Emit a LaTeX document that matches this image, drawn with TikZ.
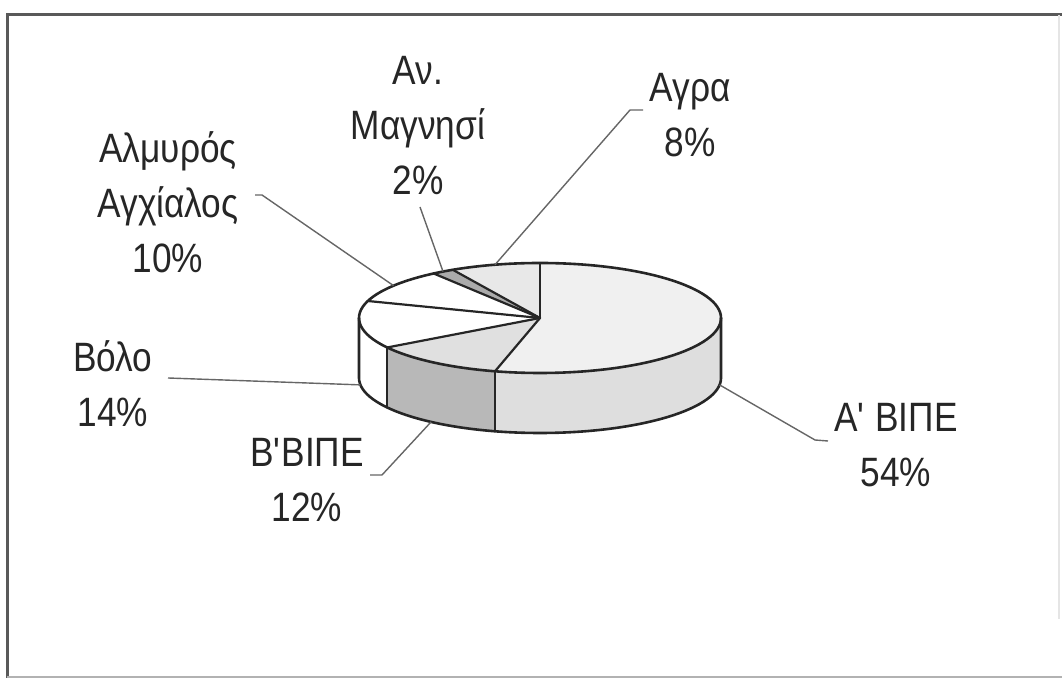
\documentclass[tikz,border=0pt]{standalone}
\usepackage{fontspec}
\setmainfont{Liberation Sans}[FakeStretch=0.86]
\begin{document}
\begin{tikzpicture}[x=1pt,y=1pt,
  pieline/.style={draw=black!85,line width=2.6pt,line join=round},
  radline/.style={draw=black!85,line width=2.2pt,line cap=round},
  leader/.style={draw=black!60,line width=1.4pt,line join=round},
  lab/.style={align=center,inner sep=0pt,text=black!85,font=\fontsize{41}{55}\selectfont},
  frameline/.style={draw=black!65,line width=3pt}]
\useasboundingbox (0,0) rectangle (1062,679);
\def\pcx{540}\def\pcy{361}\def\prx{181}\def\pry{55}\def\pdep{60}
% frame
\draw[frameline] (7,664) -- (1062,664);
\draw[frameline] (7,665.5) -- (7,1);
\draw[draw=black!30,line width=2pt] (7,2) -- (1062,2);
\draw[draw=black!10,line width=1.5pt] (1059,664) -- (1059,60);
% colours
\colorlet{aTop}{black!6}
\colorlet{aSide}{black!13}
\colorlet{bTop}{black!12}
\colorlet{bSide}{black!28}
\colorlet{mTop}{black!33}
\colorlet{gTop}{black!9}
% side walls
\fill[aSide] ({\pcx+\prx*cos(-104.4)},{\pcy+\pry*sin(-104.4)}) arc[start angle=-104.4,end angle=0,x radius=\prx,y radius=\pry] -- ++(0,-\pdep) arc[start angle=0,end angle=-104.4,x radius=\prx,y radius=\pry] -- cycle;
\fill[bSide] ({\pcx+\prx*cos(-147.6)},{\pcy+\pry*sin(-147.6)}) arc[start angle=-147.6,end angle=-104.4,x radius=\prx,y radius=\pry] -- ++(0,-\pdep) arc[start angle=-104.4,end angle=-147.6,x radius=\prx,y radius=\pry] -- cycle;
% top faces
\fill[aTop] (\pcx,\pcy) -- ({\pcx+\prx*cos(90)},{\pcy+\pry*sin(90)}) arc[start angle=90,end angle=-104.4,x radius=\prx,y radius=\pry] -- cycle;
\fill[bTop] (\pcx,\pcy) -- ({\pcx+\prx*cos(-104.4)},{\pcy+\pry*sin(-104.4)}) arc[start angle=-104.4,end angle=-147.6,x radius=\prx,y radius=\pry] -- cycle;
\fill[mTop] (\pcx,\pcy) -- ({\pcx+\prx*cos(126)},{\pcy+\pry*sin(126)}) arc[start angle=126,end angle=118.8,x radius=\prx,y radius=\pry] -- cycle;
\fill[gTop] (\pcx,\pcy) -- ({\pcx+\prx*cos(118.8)},{\pcy+\pry*sin(118.8)}) arc[start angle=118.8,end angle=90,x radius=\prx,y radius=\pry] -- cycle;
% radial lines
\foreach \a in {90,-104.4,-147.6,162,126,118.8}
  \draw[radline] (\pcx,\pcy) -- ({\pcx+\prx*cos(\a)},{\pcy+\pry*sin(\a)});
% side separators
\foreach \a in {-104.4,-147.6}
  \draw[radline] ({\pcx+\prx*cos(\a)},{\pcy+\pry*sin(\a)}) -- ++(0,-\pdep);
% outline
\draw[pieline] (\pcx,\pcy) ellipse[x radius=\prx,y radius=\pry];
\draw[pieline] (\pcx-\prx,\pcy) -- ++(0,-\pdep) arc[start angle=180,end angle=360,x radius=\prx,y radius=\pry] -- ++(0,\pdep);
% attach points
\coordinate (pAlm) at ({\pcx+\prx*cos(144)},{\pcy+\pry*sin(144)});
\coordinate (pAnM) at ({\pcx+\prx*cos(122.4)},{\pcy+\pry*sin(122.4)});
\coordinate (pAgr) at ({\pcx+\prx*cos(104.4)},{\pcy+\pry*sin(104.4)});
\coordinate (pVol) at ({\pcx+\prx*cos(187.2)},{\pcy+\pry*sin(187.2)-\pdep});
\coordinate (pB) at ({\pcx+\prx*cos(233)},{\pcy+\pry*sin(233)-\pdep});
\coordinate (pA) at ({\pcx+\prx*cos(-7.2)},{\pcy+\pry*sin(-7.2)-\pdep});
% labels
\node[lab] (lAlm) at (168,477) {Αλμυρός\\Αγχίαλος\\10\%};
\node[lab] (lAnM) at (418,553) {Αν.\\Μαγνησί\\2\%};
\node[lab] (lAgr) at (690,564) {Αγρα\\8\%};
\node[lab] (lVol) at (113,295) {Βόλο\\14\%};
\node[lab] (lB) at (307,199) {Β\textquotesingle ΒΙΠΕ\\12\%};
\node[lab] (lA) at (896,234) {Α\textquotesingle{} ΒΙΠΕ\\54\%};
% leader start points
\coordinate (sAlm) at (255,484);
\coordinate (sAnM) at (420,472);
\coordinate (sAgr) at (643,569);
\coordinate (sVol) at (168,301);
\coordinate (sB) at (370,204);
\coordinate (sA) at (828,238);
\draw[leader] (sAlm) -- ++(7,0) -- (pAlm);
\draw[leader] (sAnM) -- (pAnM);
\draw[leader] (sAgr) -- ++(-13,0) -- (pAgr);
\draw[leader] (sVol) -- (pVol);
\draw[leader] (sB) -- ++(12,0) -- (pB);
\draw[leader] (sA) -- ++(-13,1) -- (pA);
\end{tikzpicture}
\end{document}
